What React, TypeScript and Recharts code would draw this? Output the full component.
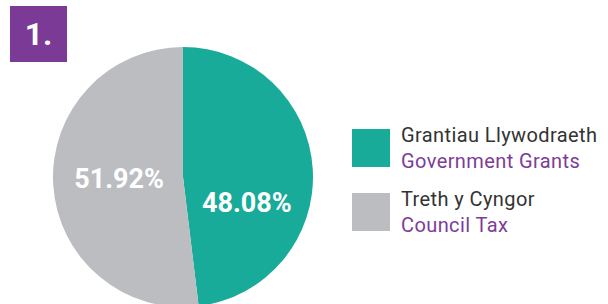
import { PieChart, Pie, Cell, Legend } from 'recharts';

const welshNames = ['Grantiau Llywodraeth', 'Treth y Cyngor'];
const englishNames = ['Government Grants', 'Council Tax'];
const shares = [48.08, 51.92];
const colors = ['#18ab99', '#bcbdc1'];

const data = shares.map((value, i) => ({
  name: englishNames[i],
  welsh: welshNames[i],
  value,
  color: colors[i],
}));

const RAD = Math.PI / 180;

const renderLabel = (props: any) => {
  const { cx, cy, midAngle, value, index } = props;
  const r = 64;
  // teal label sits lower than its mid angle
  const nudgeY = index === 0 ? 30 : -2;
  const x = cx + r * Math.cos(-midAngle * RAD);
  const y = cy + r * Math.sin(-midAngle * RAD) + nudgeY;
  return (
    <text
      x={x}
      y={y}
      fill="#ffffff"
      textAnchor="middle"
      dominantBaseline="central"
      fontSize={27}
      fontWeight={700}
      fontFamily="Roboto, sans-serif"
    >
      {`${value.toFixed(2)}%`}
    </text>
  );
};

const renderLegend = () => (
  <div style={{ fontFamily: 'Roboto, sans-serif', fontSize: 20, letterSpacing: 0.4 }}>
    {data.map((item, index) => (
      <div
        key={index}
        style={{ display: 'flex', alignItems: 'center', marginBottom: 12 }}
      >
        <div
          style={{
            width: 38,
            height: 38,
            backgroundColor: item.color,
            marginRight: 11,
            flexShrink: 0,
          }}
        ></div>
        <div style={{ lineHeight: '26px' }}>
          <div style={{ color: '#333333' }}>{item.welsh}</div>
          <div style={{ color: '#7d3c98' }}>{item.name}</div>
        </div>
      </div>
    ))}
  </div>
);

export default function App() {
  return (
    <div
      style={{
        position: 'absolute',
        top: 0,
        left: 0,
        width: 608,
        height: 304,
        background: '#ffffff',
        overflow: 'hidden',
      }}
    >
      {/* Number badge */}
      <div
        style={{
          position: 'absolute',
          left: 10,
          top: 6,
          width: 57,
          height: 56,
          background: '#7b3a96',
          color: '#ffffff',
          fontFamily: 'Roboto, sans-serif',
          fontWeight: 700,
          fontSize: 32,
          display: 'flex',
          alignItems: 'center',
          justifyContent: 'center',
          zIndex: 2,
        }}
      >
        1.
      </div>
      <PieChart width={608} height={354} margin={{ top: 0, right: 0, bottom: 0, left: 0 }}>
        <Pie
          data={data}
          dataKey="value"
          cx={183}
          cy={177}
          outerRadius={130}
          startAngle={90}
          endAngle={-270}
          stroke="none"
          labelLine={false}
          label={renderLabel}
          isAnimationActive={false}
        >
          {data.map((entry, index) => (
            <Cell key={`cell-${index}`} fill={entry.color} />
          ))}
        </Pie>
        <Legend
          layout="vertical"
          content={renderLegend}
          wrapperStyle={{ position: 'absolute', left: 352, top: 122, width: 256 }}
        />
      </PieChart>
    </div>
  );
}
